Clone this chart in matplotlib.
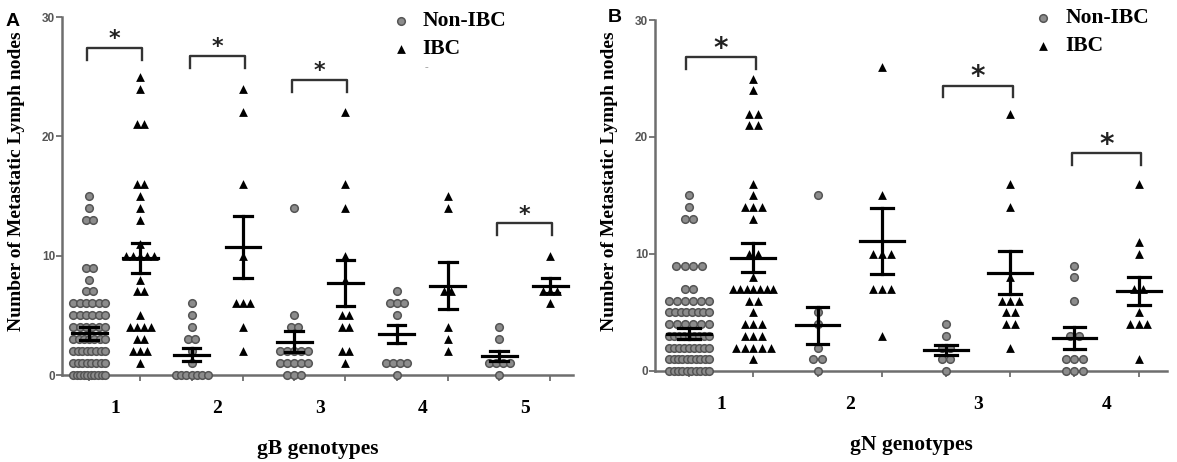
import numpy as np
import matplotlib.pyplot as plt

plt.rcParams['font.family'] = ['Liberation Serif', 'DejaVu Serif']

# ---- data: panel A (gB genotypes) ----
gb_groups = ['1', '2', '3', '4', '5']
gb_non = [
    [15, 14, 13, 13, 9, 9, 8, 7, 7] + [6] * 6 + [5] * 6 + [4] * 6 + [3] * 7 + [2] * 8 + [1] * 8 + [0] * 10,
    [6, 5, 4, 3, 3, 2, 1, 0, 0, 0, 0, 0, 0, 0],
    [14, 5, 4, 4, 2, 2, 2, 2, 2, 1, 1, 1, 1, 1, 0, 0, 0],
    [7, 6, 6, 6, 5, 1, 1, 1, 1, 0],
    [4, 3, 1, 1, 1, 1, 0],
]
gb_ibc = [
    [25, 24, 21, 21, 16, 16, 15, 14, 13, 11, 10, 10, 10, 10, 10, 8, 7, 7, 5, 4, 4, 4, 4, 3, 3, 2, 2, 2, 1],
    [24, 22, 16, 10, 6, 6, 6, 4, 2],
    [22, 16, 14, 10, 8, 5, 5, 4, 4, 2, 2, 1],
    [15, 14, 7, 7, 4, 3, 2],
    [10, 7, 7, 7, 6],
]
gb_mean_non = [3.5, 1.7, 2.8, 3.4, 1.6]
gb_sem_non = [0.55, 0.55, 0.9, 0.75, 0.4]
gb_mean_ibc = [9.8, 10.7, 7.7, 7.5, 7.5]
gb_sem_ibc = [1.25, 2.6, 1.9, 1.95, 0.65]
gb_sig = [1, 2, 3, 5]
gb_sig_y = [27.4, 26.7, 24.7, 12.7]

# ---- data: panel B (gN genotypes) ----
gn_groups = ['1', '2', '3', '4']
gn_non = [
    [15, 14, 13, 13, 9, 9, 9, 9, 7, 7] + [6] * 6 + [5] * 8 + [4] * 6 + [3] * 9 + [2] * 9 + [1] * 10 + [0] * 10,
    [15, 5, 4, 2, 1, 1, 0],
    [4, 3, 2, 2, 1, 1, 0],
    [9, 8, 6, 3, 3, 1, 1, 1, 0, 0, 0],
]
gn_ibc = [
    [25, 24, 22, 22, 21, 21, 16, 15, 14, 14, 14, 13, 10, 10, 8] + [7] * 7 + [6, 6, 5, 4, 4, 4, 3, 3, 3, 2, 2, 2, 2, 2, 1],
    [26, 15, 10, 10, 10, 7, 7, 7, 3],
    [22, 16, 14, 8, 6, 6, 6, 5, 5, 4, 4, 2],
    [16, 11, 10, 7, 7, 5, 4, 4, 4, 1],
]
gn_mean_non = [3.2, 3.9, 1.8, 2.8]
gn_sem_non = [0.5, 1.6, 0.4, 0.95]
gn_mean_ibc = [9.7, 11.1, 8.4, 6.8]
gn_sem_ibc = [1.25, 2.85, 1.85, 1.2]
gn_sig = [1, 3, 4]
gn_sig_y = [26.8, 24.4, 18.6]

serif_bold = dict(family='Liberation Serif', weight='bold')
NON_FC = '#8c8c8c'
NON_EC = '#555555'
AXIS_C = '#6e6e6e'


def swarm(x0, values, step=0.068, maxhalf=0.155):
    xs, ys = [], []
    vals = np.array(values, dtype=float)
    for v in np.unique(vals):
        n = int((vals == v).sum())
        sp = step if n < 2 else min(step, 2 * maxhalf / (n - 1))
        off = (np.arange(n) - (n - 1) / 2) * sp
        xs.extend(x0 + off)
        ys.extend([v] * n)
    return xs, ys


def mean_sem(ax, x, m, s):
    ax.plot([x - 0.17, x + 0.17], [m, m], color='black', lw=2.3, zorder=4)
    ax.plot([x, x], [m - s, m + s], color='black', lw=2.3, zorder=4)
    for yy in (m - s, m + s):
        ax.plot([x - 0.085, x + 0.085], [yy, yy], color='black', lw=2.3, zorder=4)


def panel(ax, groups, non, ibc, mn, sn, mi, si, sig, sig_y, xlabel, star_big, letter_xy, letter, leg_xy):
    n = len(groups)
    pos = np.arange(1, n + 1)
    for i in range(n):
        xn, yn = swarm(pos[i] - 0.25, non[i])
        ax.scatter(xn, yn, s=30, marker='o', facecolor=NON_FC, edgecolor=NON_EC,
                   linewidth=1.1, zorder=3, clip_on=False)
        xi, yi = swarm(pos[i] + 0.25, ibc[i])
        ax.scatter(xi, yi, s=40, marker='^', color='black', linewidth=0, zorder=3, clip_on=False)
        mean_sem(ax, pos[i] - 0.25, mn[i], sn[i])
        mean_sem(ax, pos[i] + 0.25, mi[i], si[i])

    # significance brackets
    for g, yb in zip(sig, sig_y):
        x1, x2 = g - 0.27, g + 0.27
        ax.plot([x1, x1, x2, x2], [yb - 1.0, yb, yb, yb - 1.0], color='#333333', lw=1.7,
                clip_on=False, zorder=2)
        ax.text(g, yb + 0.75, '*', ha='center', va='center', fontsize=star_big,
                family='DejaVu Sans', weight='bold', color='#222222')

    ax.set_xlim(0.485, n + 0.47)
    ax.set_ylim(0, 30)
    ax.set_yticks([0, 10, 20, 30])
    ax.set_yticklabels(['0', '10', '20', '30'], family='Liberation Sans', weight='bold',
                       fontsize=8.5, color='#555555')
    ax.set_xticks(pos)
    ax.set_xticklabels(groups, fontsize=14, **serif_bold)
    ax.set_xticks(np.concatenate([pos - 0.25, pos + 0.25]), minor=True)
    ax.tick_params(axis='x', which='major', length=0, pad=18)
    ax.tick_params(axis='x', which='minor', length=4, width=1.3, color=AXIS_C, direction='out')
    ax.tick_params(axis='y', length=4, width=1.3, color=AXIS_C, pad=1)
    for sp in ('top', 'right'):
        ax.spines[sp].set_visible(False)
    for sp in ('left', 'bottom'):
        ax.spines[sp].set_color(AXIS_C)
        ax.spines[sp].set_linewidth(1.8)
    ax.set_xlabel(xlabel, fontsize=15.5, labelpad=16, **serif_bold)
    ax.set_ylabel('Number of Metastatic Lymph nodes', fontsize=14, **serif_bold)
    ax.yaxis.set_label_coords(-0.072, 0.54)

    # legend, drawn by hand as in the original
    lx, ly = leg_xy
    ax.scatter([lx], [ly], s=30, marker='o', facecolor=NON_FC, edgecolor=NON_EC,
               linewidth=1.1, transform=ax.transAxes, clip_on=False)
    ax.scatter([lx], [ly - 0.08], s=40, marker='^', color='black', linewidth=0,
               transform=ax.transAxes, clip_on=False)
    ax.text(lx + 0.043, ly, 'Non-IBC', transform=ax.transAxes, va='center', ha='left',
            fontsize=15.5, **serif_bold)
    ax.text(lx + 0.043, ly - 0.08, 'IBC', transform=ax.transAxes, va='center', ha='left',
            fontsize=15.5, **serif_bold)
    ax.text(letter_xy[0], letter_xy[1], letter, transform=ax.transAxes, family='Liberation Sans',
            weight='bold', fontsize=14, va='center', ha='left')


fig = plt.figure(figsize=(11.77, 4.62), dpi=100)
axA = fig.add_axes([0.0527, 0.1883, 0.4341, 0.7749])
axB = fig.add_axes([0.5565, 0.1970, 0.4350, 0.7597])

panel(axA, gb_groups, gb_non, gb_ibc, gb_mean_non, gb_sem_non, gb_mean_ibc, gb_sem_ibc,
      gb_sig, gb_sig_y, 'gB genotypes', 16, (-0.11, 0.988), 'A', (0.663, 0.99))
panel(axB, gn_groups, gn_non, gn_ibc, gn_mean_non, gn_sem_non, gn_mean_ibc, gn_sem_ibc,
      gn_sig, gn_sig_y, 'gN genotypes', 20, (-0.092, 1.006), 'B', (0.758, 1.006))
axA.text(0.714, 0.86, '-', transform=axA.transAxes, fontsize=8, color='#999999',
         ha='center', va='center')

fig.savefig('out.png', dpi=100)
